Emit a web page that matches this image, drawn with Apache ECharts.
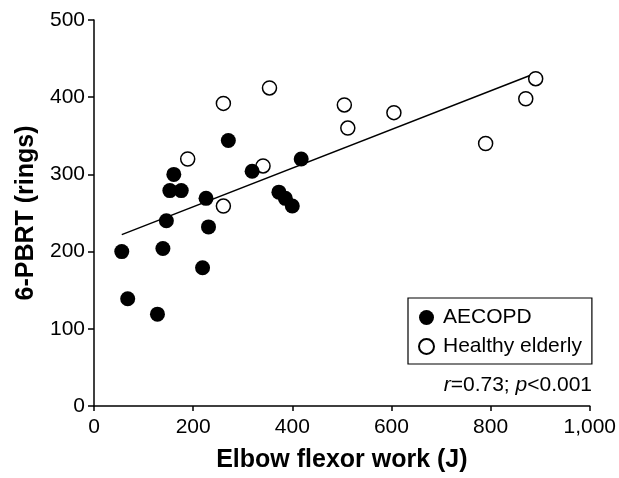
<!DOCTYPE html>
<html>
<head>
<meta charset="utf-8">
<script src="https://cdn.jsdelivr.net/npm/echarts@6/dist/echarts.min.js"></script>
<style>html,body{margin:0;padding:0;background:#fff;}#c{width:619px;height:478px;}</style>
</head>
<body>
<div id="c"></div>
<script>
const xTicks = [0, 200, 400, 600, 800, 1000];
const yTicks = [0, 100, 200, 300, 400, 500];
const aecopdX = [56, 68, 128, 139, 146, 153, 176, 161, 219, 231, 226, 319, 418, 373, 386, 400, 271];
const aecopdY = [200, 139, 119, 204, 240, 279, 279, 300, 179, 232, 269, 304, 320, 277, 269, 259, 344];
const healthyX = [189, 261, 354, 341, 261, 505, 512, 605, 790, 871, 891];
const healthyY = [320, 392, 412, 311, 259, 390, 360, 380, 340, 398, 424];
const fitX = [56, 891];
const fitY = [222, 431];

const zip = (a, b) => a.map((v, i) => [v, b[i]]);
const font = 'Liberation Sans, Arial, sans-serif';
const chart = echarts.init(document.getElementById('c'));
chart.setOption({
  animation: false,
  backgroundColor: '#fff',
  grid: { left: 94, right: 25, top: 20, bottom: 70 },
  xAxis: {
    type: 'value', min: 0, max: 1000, interval: 200,
    name: 'Elbow flexor work (J)', nameLocation: 'middle', nameGap: 42,
    nameTextStyle: { fontFamily: font, fontSize: 25, fontWeight: 'bold', color: '#000' },
    axisLine: { show: true, lineStyle: { color: '#000', width: 1.5 } },
    axisTick: { show: true, length: 5, lineStyle: { color: '#000', width: 1.5 } },
    axisLabel: { fontFamily: font, fontSize: 21, color: '#000', margin: 11,
      formatter: v => xTicks.includes(v) ? v.toLocaleString('en-US') : '' },
    splitLine: { show: false }
  },
  yAxis: {
    type: 'value', min: 0, max: 500, interval: 100,
    name: '6-PBRT (rings)', nameLocation: 'middle', nameGap: 55, nameRotate: 90,
    nameTextStyle: { fontFamily: font, fontSize: 25, fontWeight: 'bold', color: '#000' },
    axisLine: { show: true, lineStyle: { color: '#000', width: 1.5 } },
    axisTick: { show: true, length: 6, lineStyle: { color: '#000', width: 1.5 } },
    axisLabel: { fontFamily: font, fontSize: 21, color: '#000', margin: 9,
      formatter: v => yTicks.includes(v) ? String(v) : '' },
    splitLine: { show: false }
  },
  legend: {
    orient: 'vertical', left: 408, top: 298,
    padding: [9, 10, 7, 10], itemGap: 8,
    borderColor: '#000', borderWidth: 1.2,
    itemWidth: 15, itemHeight: 15,
    textStyle: { fontFamily: font, fontSize: 21, color: '#000', padding: [0, 0, 0, 4] },
    data: [
      { name: 'AECOPD', icon: 'circle' },
      { name: 'Healthy elderly', icon: 'circle' }
    ]
  },
  graphic: [{
    type: 'text', right: 27, top: 375,
    style: {
      text: '{i|r}=0.73; {i|p}<0.001',
      font: '21px ' + font, fill: '#000',
      rich: { i: { fontStyle: 'italic', fontFamily: font, fontSize: 21 } }
    }
  }],
  series: [
    {
      name: 'fit', type: 'line', data: zip(fitX, fitY), symbol: 'none',
      lineStyle: { color: '#000', width: 1.5 }, z: 1, silent: true
    },
    {
      name: 'AECOPD', type: 'scatter', data: zip(aecopdX, aecopdY),
      symbol: 'circle', symbolSize: 15, itemStyle: { color: '#000', opacity: 1 }, z: 3
    },
    {
      name: 'Healthy elderly', type: 'scatter', data: zip(healthyX, healthyY),
      symbol: 'circle', symbolSize: 14,
      itemStyle: { color: '#fff', borderColor: '#000', borderWidth: 1.5, opacity: 1 }, z: 2
    }
  ]
});
</script>
</body>
</html>
